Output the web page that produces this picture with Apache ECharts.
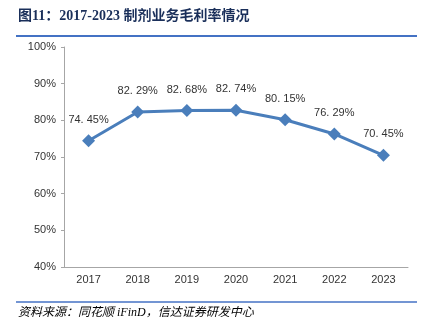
<!DOCTYPE html>
<html><head><meta charset="utf-8">
<script src="https://cdn.jsdelivr.net/npm/echarts@6/dist/echarts.min.js"></script>
<style>html,body{margin:0;padding:0;background:#fff}#c{width:432px;height:332px}</style>
</head><body><div id="c"></div>
<script>
var categories = ['2017','2018','2019','2020','2021','2022','2023'];
var margins = [74.45, 82.29, 82.68, 82.74, 80.15, 76.29, 70.45];
var yTicks = [40, 50, 60, 70, 80, 90, 100];
var titleText = '图11：2017-2023 制剂业务毛利率情况';
var sourceText = '资料来源：同花顺 iFinD，信达证券研发中心';

var chart = echarts.init(document.getElementById('c'));
chart.setOption({
  animation: false,
  grid: {left: 64, right: 24, top: 47, bottom: 65},
  xAxis: {
    type: 'category', data: categories, boundaryGap: true,
    axisLine: {lineStyle: {color: '#a6a6a6'}},
    axisTick: {show: false},
    axisLabel: {color: '#333', fontSize: 11, fontFamily: 'Liberation Sans, Arial', margin: 7}
  },
  yAxis: {
    type: 'value', min: yTicks[0], max: yTicks[yTicks.length-1], interval: 10,
    axisLine: {show: true, lineStyle: {color: '#a6a6a6'}},
    axisTick: {show: true, length: 3, lineStyle: {color: '#a6a6a6'}},
    splitLine: {show: false},
    axisLabel: {color: '#333', fontSize: 11, fontFamily: 'Liberation Sans, Arial', margin: 8,
      formatter: function(v){return v + '%';}}
  },
  series: [{
    type: 'line', data: margins,
    symbol: 'diamond', symbolSize: 13,
    lineStyle: {color: '#4a7ebb', width: 3},
    itemStyle: {color: '#4a7ebb'},
    label: {show: true, position: 'top', distance: 9, color: '#333', fontSize: 11,
      fontFamily: 'Liberation Sans, Arial',
      formatter: function(p){return p.value.toFixed(2).replace('.', '. ') + '%';}}
  }],
  graphic: [
    {type: 'text', left: 18, top: 9, style: {text: titleText, fill: '#1a2f5a',
      font: 'bold 14px "Liberation Serif", "Noto Sans CJK SC", serif'}},
    {type: 'line', shape: {x1: 16, y1: 36, x2: 417, y2: 36}, style: {stroke: '#4472c4', lineWidth: 2}},
    {type: 'line', shape: {x1: 16, y1: 302, x2: 417, y2: 302}, style: {stroke: '#4472c4', lineWidth: 1.5}},
    {type: 'text', left: 18, top: 307, style: {text: sourceText, fill: '#000',
      font: 'italic 12px "Liberation Serif", "Noto Sans CJK SC", serif'}}
  ]
});
</script></body></html>
